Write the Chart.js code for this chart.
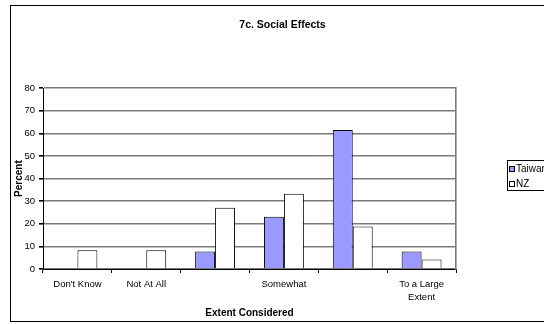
<!DOCTYPE html>
<html>
<head>
<meta charset="utf-8">
<script src="https://cdn.jsdelivr.net/npm/chart.js@4/dist/chart.umd.min.js"></script>
<style>
  html, body { margin: 0; padding: 0; background: #fff; overflow: hidden; width: 544px; height: 324px; }
  #c { position: absolute; left: 0; top: 0; }
</style>
</head>
<body>
<canvas id="c" width="566" height="324"></canvas>
<script>
// Survey responses, percent of respondents per answer
const categories = ["Don't Know", "Not At All", "", "Somewhat", "", ["To a Large", "Extent"]];
const seriesNames = ["Taiwan", "NZ"];
const taiwanValues = [0, 0, 7.7, 23.1, 61.5, 7.7];
const nzValues = [8.3, 8.3, 27.1, 33.3, 18.8, 4.2];
const yTickValues = [0, 10, 20, 30, 40, 50, 60, 70, 80];

const FONT = "'Liberation Sans', Arial, Helvetica, sans-serif";
Chart.defaults.font.family = FONT;
Chart.defaults.color = '#000';

// Outer frame of the chart object plus a boxed legend at the right
const framePlugin = {
  id: 'frame',
  beforeDraw(chart) {
    const ctx = chart.ctx;
    ctx.save();
    ctx.fillStyle = '#fff';
    ctx.fillRect(0, 0, chart.width, chart.height);
    ctx.strokeStyle = '#000';
    ctx.lineWidth = 1;
    ctx.strokeRect(10.5, 5.5, 560, 316);
    ctx.restore();
  },
  afterDraw(chart) {
    const ctx = chart.ctx;
    ctx.save();
    ctx.strokeStyle = '#000';
    ctx.lineWidth = 1;
    ctx.fillStyle = '#fff';
    ctx.fillRect(507.5, 160.5, 56, 30);
    ctx.strokeRect(507.5, 160.5, 56, 30);
    ctx.font = '10px ' + FONT;
    ctx.textBaseline = 'middle';
    chart.data.datasets.forEach((ds, i) => {
      const cy = 169 + i * 15;
      ctx.fillStyle = ds.backgroundColor;
      ctx.fillRect(509.5, cy - 2.5, 5, 5);
      ctx.strokeStyle = '#000';
      ctx.strokeRect(509.5, cy - 2.5, 5, 5);
      ctx.fillStyle = '#000';
      ctx.fillText(ds.label, 516, cy + 0.5);
    });
    ctx.restore();
  }
};

new Chart(document.getElementById('c'), {
  type: 'bar',
  data: {
    labels: categories,
    datasets: [
      {
        label: seriesNames[0],
        data: taiwanValues,
        backgroundColor: '#9999FF',
        borderColor: '#000',
        borderWidth: 1,
        barPercentage: 1,
        categoryPercentage: 0.58
      },
      {
        label: seriesNames[1],
        data: nzValues,
        backgroundColor: '#FFFFFF',
        borderColor: '#000',
        borderWidth: 1,
        barPercentage: 1,
        categoryPercentage: 0.58
      }
    ]
  },
  options: {
    responsive: false,
    devicePixelRatio: 1,
    animation: false,
    layout: { padding: { left: 10, right: 11, top: 5, bottom: 0 } },
    plugins: {
      legend: { display: false },
      tooltip: { enabled: false },
      title: {
        display: true,
        text: '7c. Social Effects',
        font: { size: 10.5, weight: 'bold' },
        color: '#000',
        padding: { top: 13.5, bottom: 57 }
      }
    },
    scales: {
      x: {
        offset: true,
        grid: {
          display: true,
          offset: true,
          drawOnChartArea: false,
          drawTicks: true,
          tickLength: 4,
          tickColor: '#000'
        },
        border: { display: true, color: '#000' },
        ticks: {
          font: { size: 9.5, lineHeight: 1.4 },
          color: '#000',
          padding: 4.5,
          maxRotation: 0,
          autoSkip: false
        },
        title: {
          display: true,
          text: 'Extent Considered',
          font: { size: 10, weight: 'bold' },
          color: '#000',
          padding: { top: 0, bottom: 4.7 }
        },
        afterFit(scale) { scale.height = 55; }
      },
      y: {
        min: 0,
        max: 80,
        afterBuildTicks(scale) { scale.ticks = yTickValues.map(v => ({ value: v })); },
        grid: {
          color: '#7a7a7a',
          lineWidth: 1.6,
          drawTicks: true,
          tickLength: 4,
          tickColor: '#000'
        },
        border: { display: true, color: '#000' },
        ticks: {
          font: { size: 9.5 },
          color: '#000',
          padding: 4
        },
        title: {
          display: true,
          text: 'Percent',
          font: { size: 10, weight: 'bold' },
          color: '#000',
          padding: { top: 3, bottom: 0 }
        },
        afterFit(scale) { scale.width = 33; }
      },
      // empty right-hand axis: reserves the legend gutter and draws the plot's right edge
      gutter: {
        position: 'right',
        min: 0,
        max: 80,
        grid: { display: false, drawTicks: false },
        border: { display: true, color: '#7a7a7a', width: 1.6 },
        ticks: { display: false },
        afterFit(scale) { scale.width = 99; }
      }
    }
  },
  plugins: [framePlugin]
});
</script>
</body>
</html>
